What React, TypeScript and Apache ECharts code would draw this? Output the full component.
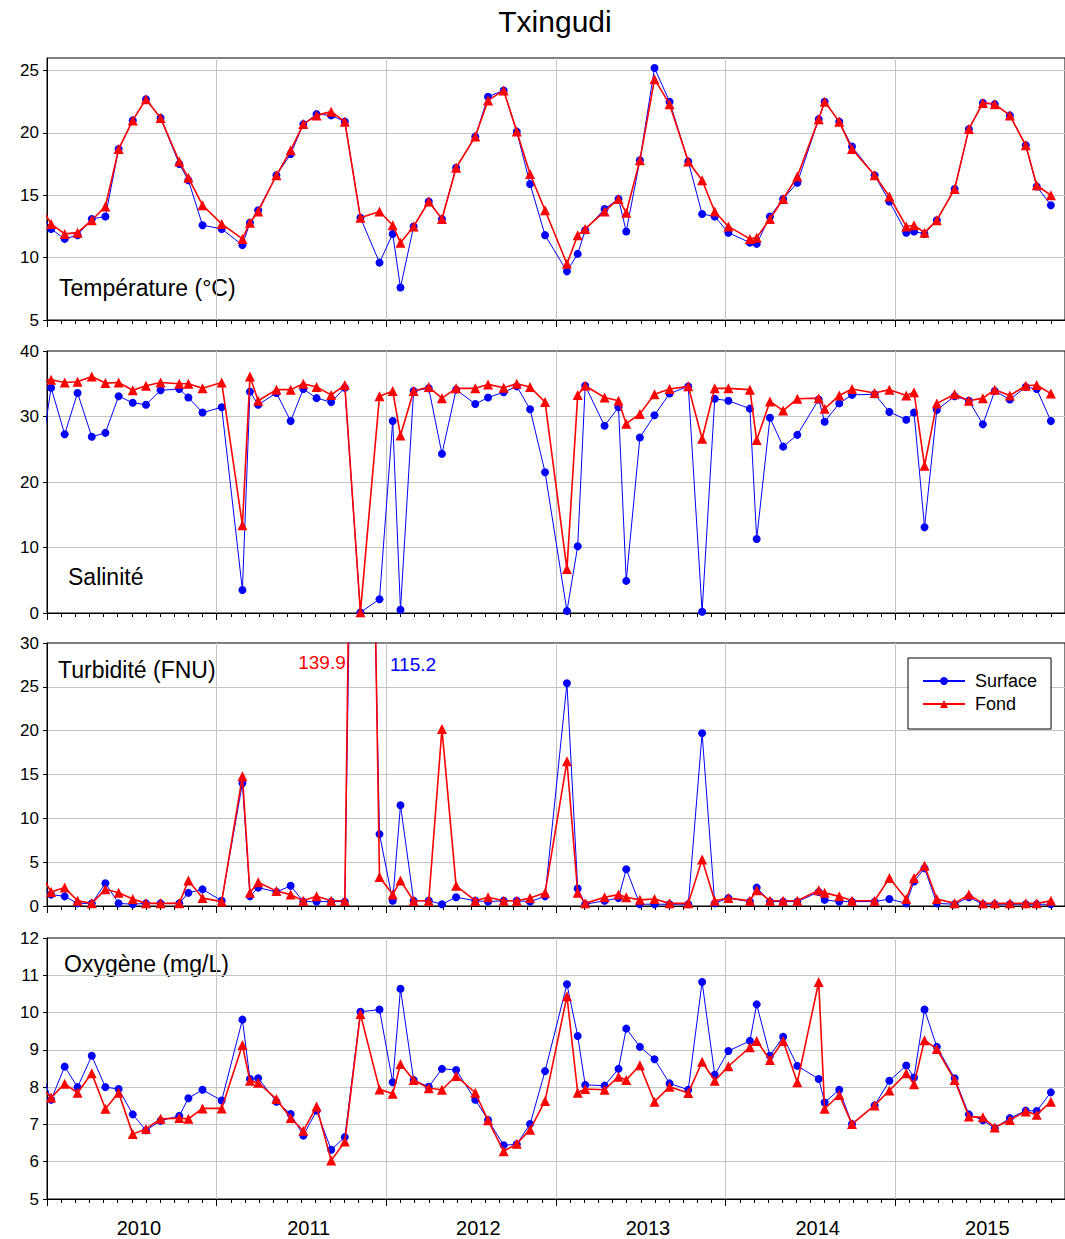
import React, { useEffect, useRef } from "react";
import * as echarts from "echarts";

// Sampling dates (first one precedes the axis and is clipped at the left edge)
const sampleDates = [
  "2009-12-10",
  "2010-01-10", "2010-02-08", "2010-03-06", "2010-04-06", "2010-05-05", "2010-06-03", "2010-07-03", "2010-08-01", "2010-09-02", "2010-10-12", "2010-11-01", "2010-12-01",
  "2011-01-12", "2011-02-24", "2011-03-12", "2011-03-30", "2011-05-08", "2011-06-08", "2011-07-05", "2011-08-03", "2011-09-04", "2011-10-03", "2011-11-06", "2011-12-17",
  "2012-01-15", "2012-02-01", "2012-02-28", "2012-04-01", "2012-04-29", "2012-05-30", "2012-07-10", "2012-08-07", "2012-09-10", "2012-10-08", "2012-11-06", "2012-12-08",
  "2013-01-25", "2013-02-16", "2013-03-03", "2013-04-14", "2013-05-14", "2013-05-31", "2013-06-29", "2013-07-31", "2013-09-02", "2013-10-12", "2013-11-11", "2013-12-08",
  "2014-01-07", "2014-02-21", "2014-03-07", "2014-04-05", "2014-05-03", "2014-06-03", "2014-07-19", "2014-08-01", "2014-09-02", "2014-09-29", "2014-11-17", "2014-12-19",
  "2015-01-25", "2015-02-10", "2015-03-03", "2015-03-30", "2015-05-07", "2015-06-07", "2015-07-07", "2015-08-02", "2015-09-04", "2015-10-08", "2015-11-01", "2015-12-01",
];

const tempSurface = [
  14.0,
  12.3, 11.5, 11.8, 13.1, 13.3, 18.7, 21.0, 22.7, 21.2, 17.5, 16.2, 12.6,
  12.3, 11.0, 12.8, 13.8, 16.6, 18.3, 20.7, 21.5, 21.4, 20.9, 13.2, 9.6,
  11.9, 7.6, 12.5, 14.5, 13.1, 17.2, 19.7, 22.9, 23.4, 20.1, 15.9, 11.8,
  8.9, 10.3, 12.2, 13.9, 14.7, 12.1, 17.8, 25.2, 22.5, 17.7, 13.5, 13.3,
  12.0, 11.2, 11.1, 13.3, 14.7, 16.0, 21.1, 22.5, 20.9, 18.9, 16.6, 14.5,
  12.0, 12.1, 11.9, 13.0, 15.5, 20.3, 22.4, 22.3, 21.4, 19.0, 15.7, 14.2,
];
const tempFond = [
  14.6,
  12.7, 11.9, 12.0, 13.0, 14.1, 18.7, 21.0, 22.7, 21.2, 17.7, 16.4, 14.2,
  12.7, 11.5, 12.8, 13.7, 16.6, 18.6, 20.7, 21.4, 21.7, 20.9, 13.2, 13.7,
  12.6, 11.2, 12.5, 14.5, 13.1, 17.2, 19.7, 22.6, 23.4, 20.1, 16.7, 13.8,
  9.5, 11.8, 12.3, 13.7, 14.7, 13.6, 17.8, 24.3, 22.3, 17.7, 16.2, 13.7,
  12.5, 11.5, 11.6, 13.1, 14.7, 16.5, 21.1, 22.5, 20.9, 18.7, 16.6, 14.9,
  12.5, 12.6, 12.0, 13.0, 15.5, 20.3, 22.4, 22.3, 21.4, 19.0, 15.8, 15.0,
];

const salSurface = [
  20.0,
  34.4, 27.3, 33.6, 26.9, 27.5, 33.1, 32.1, 31.8, 34.0, 34.2, 32.9, 30.6,
  31.4, 3.5, 33.8, 31.8, 33.6, 29.3, 34.2, 32.8, 32.2, 34.4, 0.1, 2.1,
  29.3, 0.5, 33.9, 34.3, 24.3, 34.1, 31.9, 32.9, 33.7, 34.6, 31.1, 21.5,
  0.3, 10.2, 34.7, 28.6, 31.4, 4.9, 26.8, 30.2, 33.5, 34.6, 0.2, 32.7,
  32.4, 31.2, 11.3, 29.8, 25.4, 27.2, 32.6, 29.2, 32.0, 33.3, 33.4, 30.7,
  29.5, 30.6, 13.1, 31.0, 33.1, 32.4, 28.8, 33.9, 32.6, 34.5, 34.2, 29.3,
];
const salFond = [
  35.5,
  35.6, 35.2, 35.3, 36.1, 35.1, 35.2, 34.0, 34.7, 35.2, 35.0, 35.0, 34.3,
  35.2, 13.4, 36.1, 32.4, 34.1, 34.1, 35.0, 34.5, 33.3, 34.8, 0.1, 33.1,
  33.9, 27.1, 33.9, 34.5, 32.8, 34.3, 34.3, 34.9, 34.4, 35.0, 34.5, 32.2,
  6.7, 33.3, 34.7, 32.9, 32.4, 28.9, 30.4, 33.4, 34.2, 34.6, 26.6, 34.3,
  34.3, 34.1, 26.4, 32.3, 30.9, 32.7, 32.8, 31.2, 33.2, 34.2, 33.6, 34.1,
  33.2, 33.7, 22.5, 32.0, 33.4, 32.4, 32.8, 34.1, 33.2, 34.7, 34.8, 33.5,
];

const turbSurface = [
  3.0,
  1.3, 1.1, 0.3, 0.3, 2.6, 0.3, 0.2, 0.3, 0.3, 0.3, 1.5, 1.9,
  0.6, 14.0, 1.1, 2.1, 1.6, 2.3, 0.5, 0.5, 0.5, 0.5, 115.2, 8.2,
  0.6, 11.5, 0.6, 0.6, 0.2, 1.0, 0.6, 0.5, 0.6, 0.6, 0.5, 1.1,
  25.4, 2.0, 0.2, 0.6, 0.9, 4.2, 0.2, 0.2, 0.2, 0.2, 19.7, 0.3,
  0.9, 0.5, 2.1, 0.5, 0.5, 0.5, 1.6, 0.7, 0.5, 0.5, 0.5, 0.8,
  0.3, 2.8, 4.3, 0.3, 0.2, 1.0, 0.2, 0.2, 0.2, 0.2, 0.2, 0.2,
];
const turbFond = [
  4.5,
  1.6, 2.1, 0.6, 0.3, 1.9, 1.5, 0.8, 0.3, 0.3, 0.3, 2.9, 0.9,
  0.5, 14.8, 1.5, 2.7, 1.7, 1.3, 0.6, 1.1, 0.6, 0.6, 139.9, 3.3,
  1.3, 2.9, 0.6, 0.6, 20.2, 2.3, 0.6, 1.0, 0.6, 0.6, 0.9, 1.5,
  16.5, 1.5, 0.3, 1.0, 1.3, 1.0, 0.7, 0.8, 0.3, 0.3, 5.3, 0.6,
  0.9, 0.6, 1.8, 0.6, 0.6, 0.6, 1.8, 1.5, 1.1, 0.6, 0.6, 3.2,
  0.8, 3.2, 4.6, 0.8, 0.3, 1.3, 0.3, 0.3, 0.3, 0.3, 0.3, 0.6,
];

const oxySurface = [
  8.8,
  7.66, 8.55, 8.0, 8.84, 8.0, 7.95, 7.27, 6.84, 7.1, 7.23, 7.7, 7.93,
  7.64, 9.81, 8.22, 8.24, 7.61, 7.28, 6.7, 7.37, 6.32, 6.66, 10.02, 10.08,
  8.13, 10.64, 8.19, 8.01, 8.49, 8.46, 7.66, 7.12, 6.44, 6.47, 7.01, 8.43,
  10.76, 9.37, 8.06, 8.04, 8.49, 9.57, 9.08, 8.75, 8.1, 7.93, 10.82, 8.33,
  8.97, 9.24, 10.22, 8.84, 9.35, 8.57, 8.22, 7.59, 7.93, 7.01, 7.51, 8.17,
  8.58, 8.26, 10.08, 9.08, 8.24, 7.27, 7.11, 6.9, 7.17, 7.37, 7.36, 7.86,
];
const oxyFond = [
  8.1,
  7.72, 8.09, 7.85, 8.37, 7.42, 7.85, 6.74, 6.88, 7.15, 7.17, 7.15, 7.43,
  7.43, 9.13, 8.17, 8.12, 7.68, 7.17, 6.83, 7.48, 6.03, 6.54, 9.96, 7.94,
  7.82, 8.62, 8.19, 7.97, 7.93, 8.3, 7.85, 7.11, 6.28, 6.48, 6.86, 7.63,
  10.44, 7.85, 7.95, 7.93, 8.28, 8.19, 8.59, 7.61, 8.01, 7.84, 8.68, 8.17,
  8.56, 9.07, 9.24, 8.73, 9.24, 8.13, 10.82, 7.42, 7.79, 7.01, 7.51, 7.91,
  8.37, 8.08, 9.26, 9.02, 8.19, 7.21, 7.19, 6.92, 7.12, 7.35, 7.26, 7.61,
];

const years = [2010, 2011, 2012, 2013, 2014, 2015];
const seriesNames = ["Surface", "Fond"];
const panelTitles = ["Température (°C)", "Salinité", "Turbidité (FNU)", "Oxygène (mg/L)"];

const FONT = "'Liberation Sans', Arial, Helvetica, sans-serif";
const X_MAX = 72;
const GRID_LEFT = 47;
const GRID_WIDTH = 1019;
const MONTH_PX = GRID_WIDTH / X_MAX;

function monthIndex(d: string): number {
  const [y, m, day] = d.split("-").map(Number);
  const dim = new Date(y, m, 0).getDate();
  return (y - 2010) * 12 + (m - 1) + (day - 1) / dim;
}

const xs = sampleDates.map(monthIndex);
const pairs = (vals: number[]) => vals.map((v, i) => [xs[i], v]);

const panels = [
  { top: 58, height: 262, min: 5, max: 26, interval: 5, hideMax: true, surface: tempSurface, fond: tempFond, labelY: 288, labelX: 59 },
  { top: 351, height: 262, min: 0, max: 40, interval: 10, hideMax: false, surface: salSurface, fond: salFond, labelY: 577, labelX: 68 },
  { top: 643, height: 263, min: 0, max: 30, interval: 5, hideMax: false, surface: turbSurface, fond: turbFond, labelY: 670, labelX: 58 },
  { top: 938, height: 261, min: 5, max: 12, interval: 1, hideMax: false, surface: oxySurface, fond: oxyFond, labelY: 964, labelX: 64 },
];

const GRID_COLOR = "#c4c4c4";

export default function App() {
  const ref = useRef<HTMLDivElement>(null);

  useEffect(() => {
    if (!ref.current) return;
    const chart = echarts.init(ref.current, undefined, { renderer: "svg" });

    const grid: any[] = [];
    const xAxis: any[] = [];
    const yAxis: any[] = [];
    const series: any[] = [];
    // shift year labels from Jan 1 to mid-year (6.5 months)
    const labelShift = Math.round(6.5 * MONTH_PX * 2);

    panels.forEach((p, i) => {
      const isLast = i === panels.length - 1;
      grid.push({
        left: GRID_LEFT,
        top: p.top,
        width: GRID_WIDTH,
        height: p.height,
        show: true,
        borderColor: "#000",
        borderWidth: 1,
        backgroundColor: "transparent",
        containLabel: false,
      });
      xAxis.push({
        type: "value",
        gridIndex: i,
        position: "bottom",
        min: 0,
        max: X_MAX,
        interval: 12,
        axisLine: { show: true, onZero: false, lineStyle: { color: "#000", width: 1 } },
        axisTick: { show: true, length: 7, lineStyle: { color: "#000" } },
        minorTick: { show: true, splitNumber: 12, length: 4, lineStyle: { color: "#000" } },
        minorSplitLine: { show: false },
        splitLine: { show: true, showMinLine: false, showMaxLine: false, lineStyle: { color: GRID_COLOR, width: 1 } },
        axisLabel: isLast
          ? {
              show: true,
              margin: 19,
              fontSize: 20,
              color: "#000",
              fontFamily: FONT,
              showMaxLabel: false,
              padding: [0, 0, 0, labelShift],
              formatter: (v: number) => {
                const k = Math.round(v / 12);
                return k >= 0 && k < years.length ? String(years[k]) : "";
              },
            }
          : { show: false },
      });
      yAxis.push({
        type: "value",
        gridIndex: i,
        min: p.min,
        max: p.max,
        interval: p.interval,
        axisLine: { show: true, onZero: false, lineStyle: { color: "#000", width: 1 } },
        axisTick: { show: true, length: 4, lineStyle: { color: "#000" } },
        axisLabel: {
          show: true,
          fontSize: 17,
          color: "#000",
          fontFamily: FONT,
          margin: 8,
          showMaxLabel: !p.hideMax,
        },
        splitLine: { show: true, showMinLine: false, showMaxLine: false, lineStyle: { color: GRID_COLOR, width: 1 } },
      });
      series.push({
        type: "line",
        name: seriesNames[0],
        xAxisIndex: i,
        yAxisIndex: i,
        data: pairs(p.surface),
        symbol: "circle",
        symbolSize: 8,
        showAllSymbol: true,
        clip: true,
        color: "#0000ff",
        itemStyle: { color: "#0000ff" },
        lineStyle: { color: "#0000ff", width: 1 },
        z: 3,
      });
      series.push({
        type: "line",
        name: seriesNames[1],
        xAxisIndex: i,
        yAxisIndex: i,
        data: pairs(p.fond),
        symbol: "triangle",
        symbolSize: 10,
        showAllSymbol: true,
        clip: true,
        color: "#ff0000",
        itemStyle: { color: "#ff0000" },
        lineStyle: { color: "#ff0000", width: 1.6 },
        z: 4,
      });
    });

    const peakIdx = turbFond.indexOf(Math.max(...turbFond));

    const graphic: any[] = panels.map((p, i) => ({
      type: "text",
      x: p.labelX,
      y: p.labelY,
      style: {
        text: panelTitles[i],
        fontSize: 23,
        fontFamily: FONT,
        fill: "#000",
        verticalAlign: "middle",
        textVerticalAlign: "middle",
      },
    }));
    graphic.push({
      type: "text",
      x: 322,
      y: 662,
      style: {
        text: turbFond[peakIdx].toFixed(1),
        fontSize: 19,
        fontFamily: FONT,
        fill: "#ff0000",
        align: "center",
        textAlign: "center",
        verticalAlign: "middle",
        textVerticalAlign: "middle",
      },
    });
    graphic.push({
      type: "text",
      x: 413,
      y: 664,
      style: {
        text: turbSurface[peakIdx].toFixed(1),
        fontSize: 19,
        fontFamily: FONT,
        fill: "#0000ff",
        align: "center",
        textAlign: "center",
        verticalAlign: "middle",
        textVerticalAlign: "middle",
      },
    });

    chart.setOption({
      animation: false,
      backgroundColor: "#fff",
      title: {
        text: "Txingudi",
        left: 550,
        top: 1,
        textAlign: "center",
        textStyle: { fontSize: 30, fontWeight: "normal", color: "#000", fontFamily: FONT },
      },
      legend: {
        data: seriesNames,
        orient: "vertical",
        left: 908,
        top: 658,
        padding: [14, 14, 16, 14],
        itemGap: 5,
        itemWidth: 42,
        itemHeight: 10,
        borderColor: "#000",
        borderWidth: 1,
        backgroundColor: "#fff",
        textStyle: { fontSize: 18, color: "#000", fontFamily: FONT, padding: [0, 0, 0, 5] },
        z: 10,
      },
      grid,
      xAxis,
      yAxis,
      series,
      graphic,
    });

    return () => chart.dispose();
  }, []);

  return (
    <div
      ref={ref}
      style={{ position: "fixed", left: 0, top: 0, width: 1065, height: 1239, background: "#fff" }}
    />
  );
}
